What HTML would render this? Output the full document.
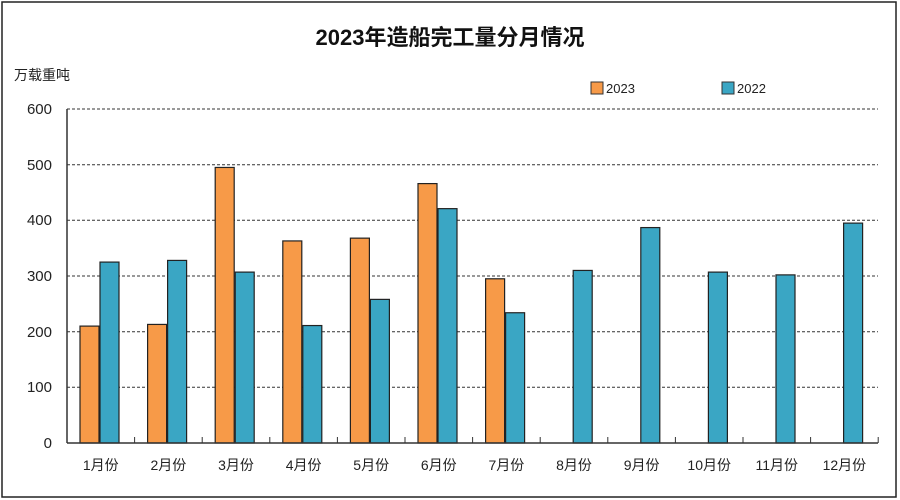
<!DOCTYPE html><html><head><meta charset="utf-8"><style>body{margin:0;background:#fff}svg{display:block}</style></head><body>
<svg width="900" height="500" xmlns="http://www.w3.org/2000/svg" font-family="Liberation Sans, Noto Sans CJK SC, sans-serif">
<rect x="0" y="0" width="900" height="500" fill="#fff"/>
<rect x="2" y="2" width="894" height="495" fill="none" stroke="#222" stroke-width="1.5"/>
<text x="450" y="45" text-anchor="middle" font-size="22" font-weight="bold" fill="#111">2023年造船完工量分月情况</text>
<text x="14" y="80" font-size="14" fill="#222">万载重吨</text>
<rect x="591" y="82" width="12" height="12" fill="#f79a48" stroke="#333"/>
<text x="606" y="93" font-size="13" fill="#222">2023</text>
<rect x="722" y="82" width="12" height="12" fill="#3aa6c4" stroke="#333"/>
<text x="737" y="93" font-size="13" fill="#222">2022</text>
<g stroke="#333" stroke-dasharray="3,2" stroke-width="1">
<line x1="67" x2="878" y1="109" y2="109"/><line x1="67" x2="878" y1="164.7" y2="164.7"/><line x1="67" x2="878" y1="220.3" y2="220.3"/><line x1="67" x2="878" y1="276" y2="276"/><line x1="67" x2="878" y1="331.7" y2="331.7"/><line x1="67" x2="878" y1="387.3" y2="387.3"/>
</g>
<g font-size="15" fill="#222" text-anchor="end">
<text x="52" y="114">600</text><text x="52" y="170">500</text><text x="52" y="225">400</text><text x="52" y="281">300</text><text x="52" y="337">200</text><text x="52" y="392">100</text><text x="52" y="448">0</text>
</g>
<g id="bars" stroke="#222" stroke-width="1.2"></g>
<line x1="67" y1="109" x2="67" y2="443" stroke="#333" stroke-width="1.5"/>
<line x1="67" y1="443" x2="878" y2="443" stroke="#333" stroke-width="1.5"/>
<g id="ticks" stroke="#333"></g>
<g id="labels" font-size="14" fill="#222" text-anchor="middle"></g>
<script>
var a=[210,213,495,363,368,466,295,null,null,null,null,null];
var b=[325,328,307,211,258,421,234,310,387,307,302,395];
var ns="http://www.w3.org/2000/svg",k=334/600,cw=67.6;
function r(x,v,c){var e=document.createElementNS(ns,"rect");e.setAttribute("x",x);e.setAttribute("y",443-v*k);e.setAttribute("width",19);e.setAttribute("height",v*k);e.setAttribute("fill",c);document.getElementById("bars").appendChild(e);}
for(var i=0;i<12;i++){var s=67+cw*i;if(a[i])r(s+13,a[i],"#f79a48");r(s+33,b[i],"#3aa6c4");
var t=document.createElementNS(ns,"text");t.setAttribute("x",s+cw/2);t.setAttribute("y",470);t.textContent=(i+1)+"月份";document.getElementById("labels").appendChild(t);
var l=document.createElementNS(ns,"line");l.setAttribute("x1",s+cw);l.setAttribute("x2",s+cw);l.setAttribute("y1",443);l.setAttribute("y2",437);document.getElementById("ticks").appendChild(l);}
</script>
</svg></body></html>
